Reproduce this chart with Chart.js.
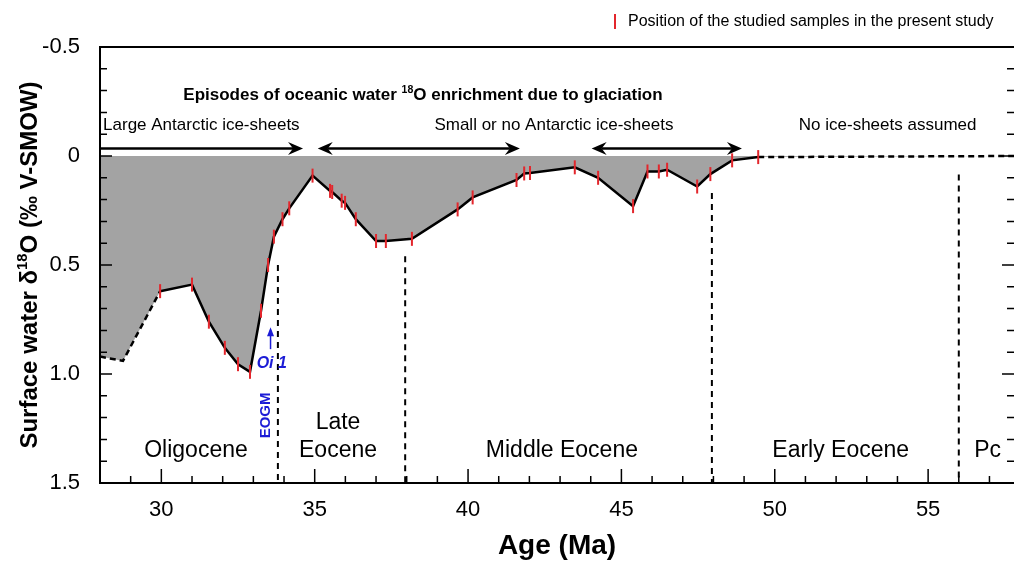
<!DOCTYPE html>
<html lang="en">
<head>
<meta charset="UTF-8">
<title>Surface water d18O vs age</title>
<script src="https://cdn.jsdelivr.net/npm/chart.js"></script>
<style>
    body {
        margin: 0;
        background: #ffffff;
        overflow: hidden;
    }
</style>
</head>
<body>
<canvas id="d18oChart" width="1014" height="565"></canvas>
<script>
    // reconstructed surface water d18O curve (age in Ma, d18O in permil)
    const ages = [28.0, 28.75, 29.96, 31.0, 31.55, 32.07, 32.5, 32.89, 33.25, 33.48, 33.67, 33.95, 34.17,
                  34.93, 35.5, 35.57, 35.88, 35.99, 36.34, 37.0, 37.32, 38.17, 39.66, 40.15, 41.58, 41.83,
                  42.02, 43.48, 44.24, 45.38, 45.85, 46.22, 46.49, 47.47, 47.9, 48.61, 49.46, 57.8];
    const d18o = [0.92, 0.94, 0.62, 0.59, 0.76, 0.88, 0.955, 0.99, 0.71, 0.50, 0.37, 0.29, 0.24,
                  0.09, 0.16, 0.165, 0.205, 0.215, 0.29, 0.39, 0.39, 0.38, 0.245, 0.19, 0.11, 0.08,
                  0.078, 0.052, 0.10, 0.23, 0.071, 0.071, 0.063, 0.14, 0.083, 0.02, 0.005, 0.0];

    // studied samples (red ticks)
    const sampleAges = [29.96, 31.0, 31.55, 32.07, 32.5, 32.89, 33.25, 33.48, 33.67, 33.95, 34.17,
                        34.93, 35.5, 35.57, 35.88, 35.99, 36.34, 37.0, 37.32, 38.17, 39.66, 40.15, 41.58,
                        41.83, 42.02, 43.48, 44.24, 45.38, 45.85, 46.22, 46.49, 47.47, 47.9, 48.61, 49.46];
    const sampleD18o = [0.62, 0.59, 0.76, 0.88, 0.955, 0.99, 0.71, 0.50, 0.37, 0.29, 0.24,
                        0.09, 0.16, 0.165, 0.205, 0.215, 0.29, 0.39, 0.39, 0.38, 0.245, 0.19, 0.11,
                        0.08, 0.078, 0.052, 0.10, 0.23, 0.071, 0.071, 0.063, 0.14, 0.083, 0.02, 0.005];

    // curve is solid only between these ages, dashed outside
    const solidFrom = 29.96;
    const solidTo = 49.46;

    const xTickLabels = [30, 35, 40, 45, 50, 55];
    const yTickLabels = [-0.5, 0, 0.5, 1.0, 1.5];

    // epochs
    const epochNames = [['Oligocene'], ['Late', 'Eocene'], ['Middle Eocene'], ['Early Eocene'], ['Pc']];
    const epochCentres = [31.13, 35.76, 43.06, 52.15, 56.94];
    const boundaryAges = [33.8, 37.95, 47.95, 56.0];
    const boundaryTops = [0.5, 0.46, 0.17, 0.085];

    // glaciation episodes (arrows)
    const episodeNames = ['Large Antarctic ice-sheets', 'Small or no Antarctic ice-sheets', 'No ice-sheets assumed'];
    const arrowStarts = [28.0, 35.1, 44.03];
    const arrowEnds = [34.62, 41.69, 48.93];
    const arrowLeftHead = [false, true, true];

    const BLUE = '#1c1cd6';
    const RED = '#e3262c';
    const FONT = '"Liberation Sans", Arial, sans-serif';

    // text with a superscript part: parts = [[text, isSup], ...]
    function drawRich(ctx, parts, x, y, size, weight) {
        let w = 0;
        parts.forEach(p => {
            ctx.font = weight + ' ' + (p[1] ? size * 0.62 : size) + 'px ' + FONT;
            w += ctx.measureText(p[0]).width;
        });
        let cx = x - w / 2;
        ctx.textAlign = 'left';
        ctx.textBaseline = 'middle';
        parts.forEach(p => {
            const s = p[1] ? size * 0.62 : size;
            ctx.font = weight + ' ' + s + 'px ' + FONT;
            ctx.fillText(p[0], cx, p[1] ? y - size * 0.3 : y);
            cx += ctx.measureText(p[0]).width;
        });
    }

    function arrowHead(ctx, tx, ty, dir) {
        ctx.beginPath();
        ctx.moveTo(tx, ty);
        ctx.lineTo(tx - dir * 15, ty - 6.5);
        ctx.lineTo(tx - dir * 10, ty);
        ctx.lineTo(tx - dir * 15, ty + 6.5);
        ctx.closePath();
        ctx.fill();
    }

    const overlay = {
        id: 'overlay',
        afterDatasetsDraw(chart) {
            const {ctx, chartArea: a, scales: {x, y}} = chart;
            ctx.save();

            // epoch boundaries
            ctx.strokeStyle = '#000';
            ctx.lineWidth = 2;
            ctx.setLineDash([6, 5]);
            boundaryAges.forEach((age, i) => {
                ctx.beginPath();
                ctx.moveTo(x.getPixelForValue(age), y.getPixelForValue(boundaryTops[i]));
                ctx.lineTo(x.getPixelForValue(age), a.bottom);
                ctx.stroke();
            });
            ctx.setLineDash([]);

            // epoch labels
            ctx.fillStyle = '#000';
            ctx.font = '23px ' + FONT;
            ctx.textAlign = 'center';
            ctx.textBaseline = 'middle';
            epochNames.forEach((lines, i) => {
                const base = y.getPixelForValue(1.353);
                lines.forEach((t, j) => {
                    ctx.fillText(t, x.getPixelForValue(epochCentres[i]), base - (lines.length - 1 - j) * 28);
                });
            });

            // arrows
            const ay = y.getPixelForValue(-0.034);
            ctx.lineWidth = 2.5;
            arrowStarts.forEach((s, i) => {
                const x0 = x.getPixelForValue(s), x1 = x.getPixelForValue(arrowEnds[i]);
                ctx.beginPath();
                ctx.moveTo(arrowLeftHead[i] ? x0 + 10 : x0, ay);
                ctx.lineTo(x1 - 10, ay);
                ctx.stroke();
                arrowHead(ctx, x1, ay, 1);
                if (arrowLeftHead[i]) arrowHead(ctx, x0, ay, -1);
            });

            // episode texts
            ctx.font = '17px ' + FONT;
            ctx.textAlign = 'left';
            ctx.fillText(episodeNames[0], x.getPixelForValue(28.1), y.getPixelForValue(-0.139));
            ctx.textAlign = 'center';
            ctx.fillText(episodeNames[1], x.getPixelForValue(42.8), y.getPixelForValue(-0.139));
            ctx.fillText(episodeNames[2], x.getPixelForValue(53.68), y.getPixelForValue(-0.139));
            drawRich(ctx, [['Episodes of oceanic water ', false], ['18', true], ['O enrichment due to glaciation', false]],
                x.getPixelForValue(38.53), y.getPixelForValue(-0.28), 17, 'bold');

            // Oi 1 and EOGM marks
            ctx.fillStyle = BLUE;
            ctx.strokeStyle = BLUE;
            ctx.font = 'italic bold 16px ' + FONT;
            ctx.textAlign = 'center';
            ctx.fillText('Oi 1', x.getPixelForValue(33.6), y.getPixelForValue(0.95));
            const ox = x.getPixelForValue(33.56);
            ctx.lineWidth = 1.5;
            ctx.beginPath();
            ctx.moveTo(ox, y.getPixelForValue(0.886));
            ctx.lineTo(ox, y.getPixelForValue(0.80));
            ctx.stroke();
            ctx.beginPath();
            ctx.moveTo(ox, y.getPixelForValue(0.785));
            ctx.lineTo(ox - 3.5, y.getPixelForValue(0.785) + 9);
            ctx.lineTo(ox + 3.5, y.getPixelForValue(0.785) + 9);
            ctx.closePath();
            ctx.fill();
            ctx.save();
            ctx.translate(x.getPixelForValue(33.41), y.getPixelForValue(1.19));
            ctx.rotate(-Math.PI / 2);
            ctx.font = 'bold 15px ' + FONT;
            ctx.fillText('EOGM', 0, 0);
            ctx.restore();

            ctx.restore();
        },
        afterDraw(chart) {
            const {ctx, chartArea: a, scales: {x, y}} = chart;
            ctx.save();
            ctx.strokeStyle = '#000';
            ctx.fillStyle = '#000';

            // inward ticks
            ctx.lineWidth = 1.5;
            ctx.beginPath();
            for (let v = 28; v <= 57; v++) {
                const px = x.getPixelForValue(v);
                const len = v % 5 === 0 ? 14 : 7;
                ctx.moveTo(px, a.bottom);
                ctx.lineTo(px, a.bottom - len);
            }
            for (let i = 0; i <= 20; i++) {
                const v = -0.5 + i * 0.1;
                const py = y.getPixelForValue(v);
                const len = i % 5 === 0 ? 12 : 7;
                ctx.moveTo(a.left, py);
                ctx.lineTo(a.left + len, py);
                ctx.moveTo(a.right, py);
                ctx.lineTo(a.right - len, py);
            }
            ctx.stroke();

            // frame: left, top and bottom only, the right side is cut off in the figure
            ctx.lineWidth = 2;
            ctx.beginPath();
            ctx.moveTo(a.right, a.top);
            ctx.lineTo(a.left, a.top);
            ctx.lineTo(a.left, a.bottom);
            ctx.lineTo(a.right, a.bottom);
            ctx.stroke();

            // y axis title
            ctx.save();
            ctx.translate(30, (a.top + a.bottom) / 2);
            ctx.rotate(-Math.PI / 2);
            drawRich(ctx, [['Surface water \u03b4', false], ['18', true], ['O (\u2030 V-SMOW)', false]], 0, 0, 24, 'bold');
            ctx.restore();

            // legend
            ctx.strokeStyle = RED;
            ctx.lineWidth = 2;
            ctx.beginPath();
            ctx.moveTo(615, 14);
            ctx.lineTo(615, 29);
            ctx.stroke();
            ctx.font = '16px ' + FONT;
            ctx.textAlign = 'left';
            ctx.textBaseline = 'middle';
            ctx.fillText(chart.data.datasets[0].label, 628, 22);
            ctx.restore();
        }
    };

    const curve = ages.map((a, i) => ({x: a, y: d18o[i]}));

    const ctx = document.getElementById('d18oChart').getContext('2d');
    const d18oChart = new Chart(ctx, {
        type: 'line',
        data: {
            datasets: [{
                label: 'Position of the studied samples in the present study',
                data: sampleAges.map((a, i) => ({x: a, y: sampleD18o[i]})),
                showLine: false,
                pointStyle: 'line',
                rotation: 90,
                radius: 7,
                borderColor: RED,
                borderWidth: 2,
                order: 0
            }, {
                // outline, dashed where the curve is extrapolated
                label: 'Surface water d18O',
                data: curve,
                borderColor: '#000',
                borderWidth: 2.5,
                fill: false,
                pointRadius: 0,
                tension: 0,
                segment: {
                    borderDash: c => (c.p0.parsed.x < solidFrom || c.p0.parsed.x >= solidTo) ? [6, 4] : undefined
                },
                order: 1
            }, {
                // grey area between the curve and 0 permil
                label: 'enrichment',
                data: curve,
                borderWidth: 0,
                borderColor: 'rgba(0,0,0,0)',
                backgroundColor: '#a3a3a3',
                fill: {value: 0},
                pointRadius: 0,
                tension: 0,
                order: 2
            }]
        },
        options: {
            responsive: false,
            animation: false,
            layout: {
                autoPadding: false,   // otherwise the point radius adds a margin on the right
                padding: { top: 47, right: 0, left: 0, bottom: 0 }
            },
            plugins: {
                legend: { display: false },
                tooltip: { enabled: false }
            },
            scales: {
                x: {
                    type: 'linear',
                    min: 28,
                    max: 57.8,
                    grid: { display: false },
                    border: { display: false },
                    afterBuildTicks: s => { s.ticks = xTickLabels.map(v => ({value: v})); },
                    afterFit: s => { s.height = 82; },
                    ticks: {
                        color: '#000',
                        font: { family: FONT, size: 22 },
                        padding: 6,
                        maxRotation: 0
                    },
                    title: {
                        display: true,
                        text: 'Age (Ma)',
                        color: '#000',
                        font: { family: FONT, size: 28, weight: 'bold' },
                        padding: { top: 0, bottom: 2 }
                    }
                },
                y: {
                    reverse: true,
                    min: -0.5,
                    max: 1.5,
                    grid: { display: false },
                    border: { display: false },
                    afterBuildTicks: s => { s.ticks = yTickLabels.map(v => ({value: v})); },
                    afterFit: s => { s.width = 100; },
                    ticks: {
                        color: '#000',
                        font: { family: FONT, size: 22 },
                        padding: 12,
                        callback: v => v === 0 ? '0' : v.toFixed(1)
                    }
                }
            }
        },
        plugins: [overlay]
    });
</script>
</body>
</html>
